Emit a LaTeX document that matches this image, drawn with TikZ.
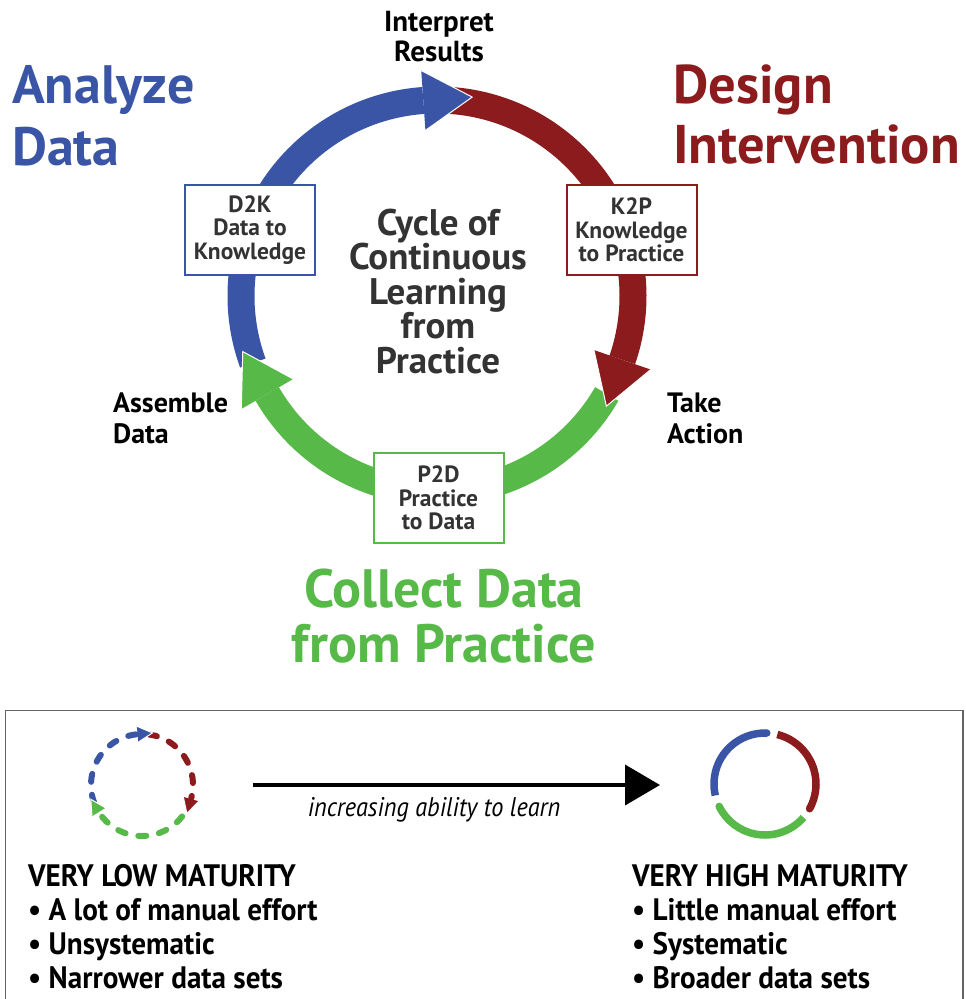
\documentclass[tikz,border=0pt]{standalone}
\usepackage{fontspec}
\setmainfont{PT Sans}
\newfontfamily\condfont[FakeStretch=0.94]{PT Sans}
\newfontfamily\narrowfont[FakeStretch=0.9]{PT Sans}
\usetikzlibrary{calc,arrows.meta}
\definecolor{cblue}{RGB}{58,85,166}
\definecolor{cred}{RGB}{140,27,30}
\definecolor{cgreen}{RGB}{86,185,72}
\definecolor{ctext}{RGB}{51,51,51}
\definecolor{cframe}{RGB}{100,100,100}
\newcommand{\fs}[2]{\fontsize{#1}{#2}\selectfont}
% arrowhead: colour, centre, radius, base angle (tikz), length, half width
\newcommand{\arrhead}[6]{%
  \pgfmathsetmacro\ahA{#4}\pgfmathsetmacro\ahB{#4+90}%
  \pgfmathsetmacro\ahRo{#3+#6}\pgfmathsetmacro\ahRi{#3-#6}%
  \coordinate (ahO) at ($(#2)+(\ahA:\ahRo)$);
  \coordinate (ahI) at ($(#2)+(\ahA:\ahRi)$);
  \coordinate (ahT) at ($(#2)+(\ahA:#3)+(\ahB:#5)$);
  \fill[#1] (ahO) -- (ahT) -- (ahI) -- cycle;
  \draw[white, line width=1pt] (ahO) -- (ahT) -- (ahI);
}
\begin{document}
\begin{tikzpicture}[x=1pt,y=-1pt,
  ring/.style={line width=27pt},
  lbl/.style={inner sep=0pt, align=center},
  box/.style={draw, line width=2pt, fill=white, minimum width=130pt, minimum height=90pt,
    inner sep=0pt, align=center, text=ctext, font=\bfseries\fs{23.5}{23.5}},
  dring/.style={line width=6pt, line cap=round, dash pattern=on 8pt off 13pt},
  sring/.style={line width=7.5pt},
  bottxt/.style={inner sep=0pt, align=left, anchor=base west, font=\condfont\bfseries\fs{31}{34}}]
\useasboundingbox (0,0) rectangle (966,999);
\fill[white] (0,0) rectangle (966,999);

% ---------- main cycle ----------
\coordinate (C) at (437,296);
\def\R{196}
\draw[ring, cblue]  ($(C)+(-200:\R)$) arc[start angle=-200, end angle=-94, radius=\R];
\draw[ring, cred]   ($(C)+(-88:\R)$)  arc[start angle=-88,  end angle=19,  radius=\R];
\draw[ring, cgreen] ($(C)+(30:\R)$)   arc[start angle=30,   end angle=150, radius=\R];
\arrhead{cblue}{C}{\R}{-94}{49}{30}
\arrhead{cred}{C}{\R}{19}{49}{30}
\arrhead{cgreen}{C}{\R}{150}{49}{30}

\node[box, draw=cblue]  (d2k) at (250,230)   {D2K\\Data to\\Knowledge};
\node[box, draw=cred]   (k2p) at (631.5,230) {K2P\\Knowledge\\to Practice};
\node[box, draw=cgreen] (p2d) at (438.5,498) {P2D\\Practice\\to Data};

% multi-line nodes: base anchor = baseline of the last line
\node[lbl, anchor=base, font=\bfseries\fs{29}{30}] (interp) at (439,61.5) {Interpret\\Results};
\node[lbl, anchor=base west, align=left, text=cblue, font=\bfseries\fs{54}{62}] (analyze) at (12,165) {Analyze\\Data};
\node[lbl, anchor=base west, align=left, text=cred, font=\bfseries\fs{54.5}{60}] (design) at (673,163) {Design\\Intervention};
\node[lbl, anchor=base, text=ctext, font=\bfseries\fs{37}{34.5}] (cycle) at (438,373) {Cycle of\\Continuous\\Learning\\from\\Practice};
\node[lbl, anchor=base west, align=left, font=\bfseries\fs{28}{31}] (assemble) at (113,443) {Assemble\\Data};
\node[lbl, anchor=base west, align=left, font=\bfseries\fs{28}{31}] (take) at (667,443) {Take\\Action};
\node[lbl, anchor=base, text=cgreen, font=\bfseries\fs{54}{55}] (collect) at (444,662) {Collect Data\\from Practice};

% ---------- bottom panel ----------
\draw[cframe, line width=1.5pt] (5.5,1010) -- (5.5,710.5) -- (963,710.5) -- (963,1010);

% low maturity dashed cycle
\coordinate (L) at (142,785);
\def\r{51}
\draw[dring, cblue]  ($(L)+(-200:\r)$) arc[start angle=-200, end angle=-96, radius=\r];
\draw[dring, cred]   ($(L)+(-82:\r)$)  arc[start angle=-82,  end angle=15,  radius=\r];
\draw[dring, cgreen] ($(L)+(38:\r)$)   arc[start angle=38,   end angle=147, radius=\r];
\arrhead{cblue}{L}{\r}{-95}{15}{8}
\arrhead{cred}{L}{\r}{16}{15}{8}
\arrhead{cgreen}{L}{\r}{148}{15}{8}

% high maturity solid cycle
\coordinate (H) at (765,784);
\draw[sring, cblue]  ($(H)+(-193:\r)$) arc[start angle=-193, end angle=-88, radius=\r];
\fill[cblue] ($(H)+(-88:\r)$) circle[radius=3.75];
\draw[sring, cred]   ($(H)+(-76:\r)$)  arc[start angle=-76,  end angle=29,  radius=\r];
\fill[cred] ($(H)+(29:\r)$) circle[radius=3.75];
\draw[sring, cgreen] ($(H)+(41:\r)$)   arc[start angle=41,   end angle=154, radius=\r];
\fill[cgreen] ($(H)+(154:\r)$) circle[radius=3.75];

\coordinate (arrS) at (253,785);
\coordinate (arrE) at (660,785);
\draw[line width=4pt, -{Triangle[length=35pt, width=40pt]}] (arrS) -- (arrE);
\node[inner sep=0pt, anchor=base, font=\narrowfont\itshape\fs{27}{27}] (incr) at (434,816) {increasing ability to learn};

\node[bottxt] (low) at (28,988) {VERY LOW MATURITY\\\textbullet\ A lot of manual effort\\\textbullet\ Unsystematic\\\textbullet\ Narrower data sets};
\node[bottxt] (high) at (632,988) {VERY HIGH MATURITY\\\textbullet\ Little manual effort\\\textbullet\ Systematic\\\textbullet\ Broader data sets};
\end{tikzpicture}
\end{document}
